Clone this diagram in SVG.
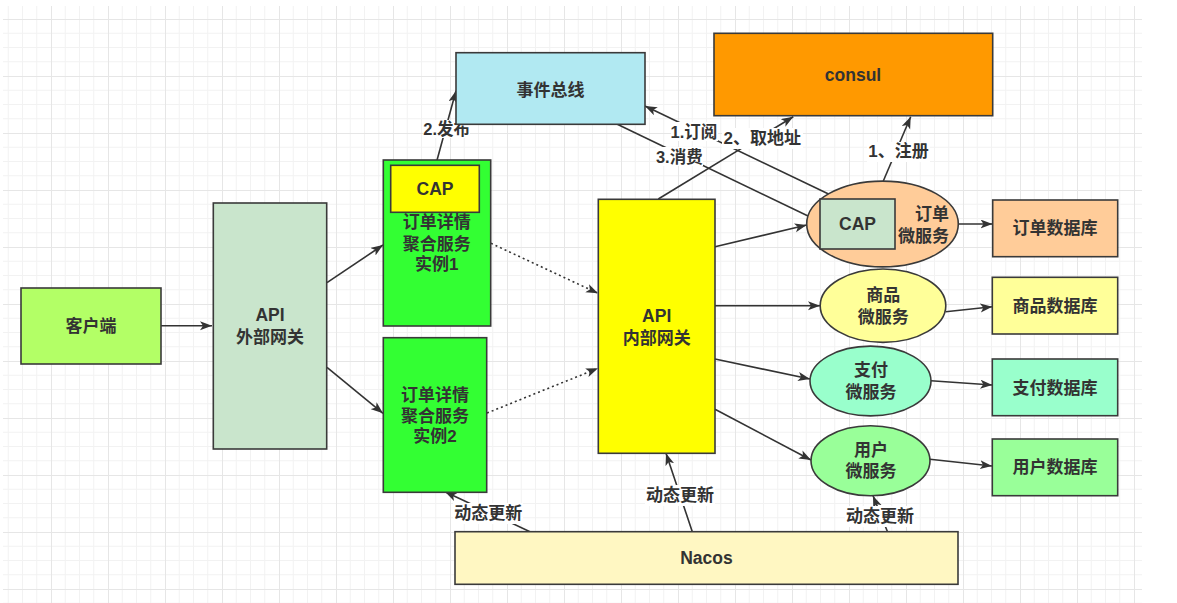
<svg xmlns="http://www.w3.org/2000/svg" width="1177" height="603" viewBox="0 0 1177 603">
<style>
.n{stroke:#3a3a3a;stroke-width:1.6}
.t{font-family:"Liberation Sans","Noto Sans CJK SC",sans-serif;font-weight:bold;font-size:17px;fill:#333;text-anchor:middle;dominant-baseline:central}
.lat{font-size:17.5px}
.lb{font-size:16.5px}
.lb2{font-size:17px}
.e{stroke:#333;stroke-width:1.6;fill:none;marker-end:url(#ah)}
.d{stroke-dasharray:2 3}
.bg{fill:#fff}
</style>
<defs>
<pattern id="grid" patternUnits="userSpaceOnUse" x="-6" y="19" width="57" height="57">
<path d="M14.25 0V57M28.5 0V57M42.75 0V57M0 14.25H57M0 28.5H57M0 42.75H57" stroke="#f2f2f2" stroke-width="1"/>
<path d="M0.5 0V57M0 0.5H57" stroke="#e6e6e6" stroke-width="1"/>
</pattern>
<marker id="ah" markerUnits="userSpaceOnUse" markerWidth="13" markerHeight="10" refX="12" refY="4.5" orient="auto">
<path d="M0,0 L12,4.5 L0,9 L3,4.5 z" fill="#333"/>
</marker>
</defs>
<rect width="1177" height="603" fill="#fff"/>
<rect x="3" y="6" width="1139" height="597" fill="url(#grid)"/>

<g id="connectors">
<line class="e" x1="161" y1="325.7" x2="212" y2="325.7"/>
<line class="e" x1="327" y1="282.7" x2="383" y2="245"/>
<line class="e" x1="327" y1="367.3" x2="383" y2="413.3"/>
<line class="e d" x1="491" y1="243.3" x2="598" y2="293.3"/>
<line class="e d" x1="487" y1="413" x2="598" y2="368.3"/>
<line class="e" x1="435.7" y1="165" x2="456" y2="90.7"/>
<line class="e" x1="839" y1="199" x2="645" y2="106"/>
<line class="e" x1="617.3" y1="124.3" x2="820" y2="221.7"/>
<line class="e" x1="658.3" y1="199" x2="793.3" y2="116.7"/>
<line class="e" x1="883.3" y1="181" x2="910.7" y2="116.7"/>
<line class="e" x1="715" y1="246.7" x2="806.7" y2="225"/>
<line class="e" x1="715" y1="305.7" x2="820" y2="305.7"/>
<line class="e" x1="715" y1="359" x2="810" y2="379"/>
<line class="e" x1="715" y1="409.3" x2="811" y2="460"/>
<line class="e" x1="958" y1="224" x2="992.5" y2="224"/>
<line class="e" x1="945.7" y1="311.7" x2="992.3" y2="306.7"/>
<line class="e" x1="931" y1="380.7" x2="992.3" y2="385"/>
<line class="e" x1="930" y1="459.3" x2="992" y2="466"/>
<line class="e" x1="530" y1="531.7" x2="445" y2="491.7"/>
<line class="e" x1="692.3" y1="531.7" x2="666" y2="453.3"/>
<line class="e" x1="887.5" y1="531.7" x2="873" y2="495.7"/>
<g id="edge-labels">
<rect class="bg" x="423" y="120" width="47" height="18"/>
<text class="t lb" x="446.7" y="128.7">2.发布</text>
<rect class="bg" x="671" y="122" width="47" height="19"/>
<text class="t lb" x="694" y="131.7">1.订阅</text>
<rect class="bg" x="656" y="147" width="47" height="19"/>
<text class="t lb" x="679.3" y="156.7">3.消费</text>
<rect class="bg" x="722" y="128" width="81" height="21"/>
<text class="t lb2" x="762.3" y="138.3">2、取地址</text>
<rect class="bg" x="867" y="142" width="63" height="20"/>
<text class="t lb2" x="898.5" y="151.7">1、注册</text>
<rect class="bg" x="453" y="503" width="70" height="21"/>
<text class="t lb2" x="488.3" y="513.3">动态更新</text>
<rect class="bg" x="645" y="485" width="70" height="21"/>
<text class="t lb2" x="680" y="495">动态更新</text>
<rect class="bg" x="845" y="506" width="70" height="21"/>
<text class="t lb2" x="880" y="516">动态更新</text>
</g>
</g>

<g id="client">
<rect class="n" x="21" y="288" width="140" height="76" fill="#b3ff66"/>
<text class="t" x="91" y="326">客户端</text>
</g>
<g id="ext-gateway">
<rect class="n" x="213.3" y="203" width="113.4" height="246" fill="#c9e5cc"/>
<text class="t lat" x="270" y="315">API</text>
<text class="t" x="270" y="337.5">外部网关</text>
</g>
<g id="agg1">
<rect class="n" x="383.3" y="160" width="107.4" height="166" fill="#33ff33"/>
<text class="t" x="436.7" y="222.7">订单详情</text>
<text class="t" x="436.7" y="244.3">聚合服务</text>
<text class="t" x="436.7" y="264.3">实例1</text>
</g>
<g id="agg1-cap">
<rect class="n" x="390.7" y="165.3" width="88.6" height="47" fill="#ffff00"/>
<text class="t lat" x="435" y="189">CAP</text>
</g>
<g id="agg2">
<rect class="n" x="383.3" y="337.7" width="103.4" height="154.6" fill="#33ff33"/>
<text class="t" x="435" y="395">订单详情</text>
<text class="t" x="435" y="416">聚合服务</text>
<text class="t" x="435" y="436">实例2</text>
</g>
<g id="eventbus">
<rect class="n" x="456" y="52.7" width="189" height="71.6" fill="#b1e9f2"/>
<text class="t" x="550.5" y="90">事件总线</text>
</g>
<g id="consul">
<rect class="n" x="714" y="33.3" width="278.7" height="82.4" fill="#ff9900"/>
<text class="t lat" x="853" y="75">consul</text>
</g>
<g id="int-gateway">
<rect class="n" x="598.3" y="199.3" width="116.7" height="254" fill="#ffff00"/>
<text class="t lat" x="656.7" y="316">API</text>
<text class="t" x="656.7" y="338.3">内部网关</text>
</g>
<g id="order-svc">
<ellipse class="n" cx="882.5" cy="224" rx="75.8" ry="42.9" fill="#ffcc99"/>
<text class="t" x="949" y="214.3" style="text-anchor:end">订单</text>
<text class="t" x="949" y="236.7" style="text-anchor:end">微服务</text>
</g>
<g id="order-cap">
<rect class="n" x="820" y="199" width="75" height="50" fill="#c9e5cc"/>
<text class="t lat" x="857.5" y="224">CAP</text>
</g>
<g id="goods-svc">
<ellipse class="n" cx="883" cy="305.7" rx="62.8" ry="36.7" fill="#ffff99"/>
<text class="t" x="883.3" y="295">商品</text>
<text class="t" x="883.3" y="317.3">微服务</text>
</g>
<g id="pay-svc">
<ellipse class="n" cx="870.5" cy="381" rx="60.5" ry="34.9" fill="#99ffcc"/>
<text class="t" x="871" y="370.7">支付</text>
<text class="t" x="871" y="392.7">微服务</text>
</g>
<g id="user-svc">
<ellipse class="n" cx="870.5" cy="460.7" rx="59.5" ry="35" fill="#99ff99"/>
<text class="t" x="871" y="450.7">用户</text>
<text class="t" x="871" y="471.7">微服务</text>
</g>
<g id="order-db">
<rect class="n" x="992.7" y="200" width="125" height="56.7" fill="#ffcc99"/>
<text class="t" x="1055" y="228.3">订单数据库</text>
</g>
<g id="goods-db">
<rect class="n" x="992.3" y="277.3" width="125.4" height="56.7" fill="#ffff99"/>
<text class="t" x="1055" y="306.3">商品数据库</text>
</g>
<g id="pay-db">
<rect class="n" x="992.3" y="359" width="125.4" height="56.7" fill="#99ffcc"/>
<text class="t" x="1055" y="388.3">支付数据库</text>
</g>
<g id="user-db">
<rect class="n" x="992.3" y="439" width="125.4" height="56.7" fill="#99ff99"/>
<text class="t" x="1055" y="467.3">用户数据库</text>
</g>
<g id="nacos">
<rect class="n" x="455" y="531.7" width="503" height="52.6" fill="#fff7c2"/>
<text class="t lat" x="706.5" y="557.5">Nacos</text>
</g>
</svg>
